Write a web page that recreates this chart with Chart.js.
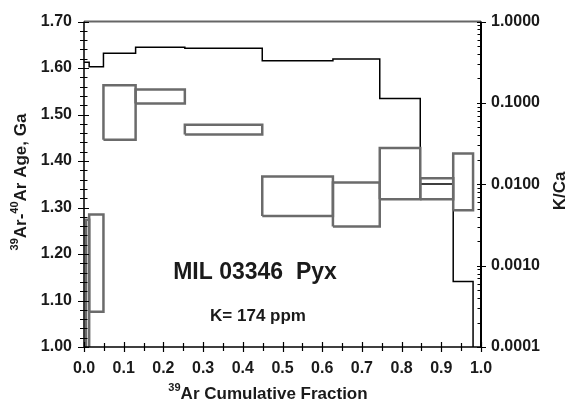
<!DOCTYPE html>
<html>
<head>
<meta charset="utf-8">
<script src="https://cdn.jsdelivr.net/npm/chart.js@4.4.1/dist/chart.umd.min.js"></script>
<style>
  html, body { margin: 0; padding: 0; background: #fff; }
  #wrap { width: 569px; height: 405px; position: relative; }
</style>
</head>
<body>
<div id="wrap"><canvas id="c"></canvas></div>
<script>
// Age spectrum steps (39Ar cumulative fraction) and age error boxes (Ga)
const stepStart = [0.005, 0.013, 0.049, 0.130, 0.254, 0.449, 0.627, 0.745, 0.847, 0.930];
const stepEnd   = [0.013, 0.049, 0.130, 0.254, 0.449, 0.627, 0.745, 0.847, 0.930, 0.980];
const ageHigh   = [1.274, 1.285, 1.563, 1.554, 1.478, 1.367, 1.354, 1.428, 1.363, 1.416];
const ageLow    = [0.950, 1.076, 1.446, 1.524, 1.457, 1.282, 1.259, 1.318, 1.318, 1.294];

// K/Ca step line (value holds from each x until the next one)
const kcaX     = [0, 0.013, 0.049, 0.130, 0.254, 0.449, 0.627, 0.745, 0.847, 0.930, 0.980, 1.0];
const kcaValue = [0.316, 0.279, 0.409, 0.484, 0.471, 0.330, 0.346, 0.1135, 0.0101, 0.00064, 0.00005, 0.00005];

// tick labels
const ageTicks = [1.0, 1.1, 1.2, 1.3, 1.4, 1.5, 1.6, 1.7];
const kcaTicks = [0.0001, 0.001, 0.01, 0.1, 1];

const FONT = "'Liberation Sans', Arial, sans-serif";
const boxColor = '#6b6b6b';

const datasets = [];
stepStart.forEach((x0, i) => {
  const x1 = stepEnd[i];
  datasets.push({
    type: 'line',
    yAxisID: 'yAge',
    data: [
      { x: x0, y: ageLow[i] }, { x: x0, y: ageHigh[i] },
      { x: x1, y: ageHigh[i] }, { x: x1, y: ageLow[i] },
      { x: x0, y: ageLow[i] }
    ],
    borderColor: boxColor,
    borderWidth: 2.5,
    pointRadius: 0,
    tension: 0,
    fill: false
  });
});
datasets.push({
  type: 'line',
  yAxisID: 'yK',
  data: kcaX.map((x, i) => ({ x: x, y: kcaValue[i] })),
  stepped: 'before',
  borderColor: '#000',
  borderWidth: 1.5,
  pointRadius: 0,
  fill: false
});

// draw text with superscript parts
function drawParts(ctx, parts, size, x, y) {
  const supSize = Math.round(size * 0.65);
  let w = 0;
  parts.forEach(p => {
    ctx.font = 'bold ' + (p.sup ? supSize : size) + 'px ' + FONT;
    p.w = ctx.measureText(p.t).width;
    w += p.w;
  });
  let cx = x - w / 2;
  ctx.textAlign = 'left';
  ctx.textBaseline = 'alphabetic';
  parts.forEach(p => {
    ctx.font = 'bold ' + (p.sup ? supSize : size) + 'px ' + FONT;
    ctx.fillText(p.t, cx, p.sup ? y - size * 0.45 : y);
    cx += p.w;
  });
}

const decor = {
  id: 'decor',
  afterDatasetsDraw(chart) {
    const { ctx, chartArea: a, scales } = chart;
    ctx.save();

    // frame
    ctx.strokeStyle = '#666';
    ctx.lineWidth = 2;
    ctx.beginPath();
    ctx.moveTo(a.left, a.top); ctx.lineTo(a.right, a.top);
    ctx.stroke();
    ctx.strokeStyle = '#000';
    ctx.lineWidth = 1.5;
    ctx.beginPath();
    ctx.moveTo(a.left, a.top); ctx.lineTo(a.left, a.bottom); ctx.lineTo(a.right, a.bottom);
    ctx.stroke();
    ctx.lineWidth = 2;
    ctx.beginPath();
    ctx.moveTo(a.right, a.top); ctx.lineTo(a.right, a.bottom);
    ctx.stroke();

    // left ticks
    ctx.lineWidth = 1.2;
    ctx.beginPath();
    for (let i = 0; i <= 35; i++) {
      const v = 1 + i * 0.02;
      const y = Math.round(scales.yAge.getPixelForValue(v)) + 0.5;
      const major = i % 5 === 0;
      ctx.moveTo(a.left - (major ? 6 : 4), y);
      ctx.lineTo(a.left + (major ? 5 : 3.5), y);
    }
    // bottom ticks
    for (let i = 0; i <= 20; i++) {
      const x = Math.round(scales.x.getPixelForValue(i * 0.05)) + 0.5;
      const major = i % 2 === 0;
      ctx.moveTo(x, a.bottom - (major ? 5 : 4));
      ctx.lineTo(x, a.bottom + (major ? 5 : 4));
    }
    // right log ticks
    for (let d = -4; d <= 0; d++) {
      const y = Math.round(scales.yK.getPixelForValue(Math.pow(10, d))) + 0.5;
      ctx.moveTo(a.right - 4, y);
      ctx.lineTo(a.right + 5, y);
      if (d < 0) {
        for (let m = 2; m <= 9; m++) {
          const ym = Math.round(scales.yK.getPixelForValue(m * Math.pow(10, d))) + 0.5;
          ctx.moveTo(a.right - 3.5, ym);
          ctx.lineTo(a.right, ym);
        }
      }
    }
    ctx.stroke();

    // annotations
    ctx.fillStyle = '#1a1a1a';
    ctx.textAlign = 'center';
    ctx.textBaseline = 'alphabetic';
    ctx.font = 'bold 23px ' + FONT;
    ctx.fillText('MIL 03346  Pyx', 255, 279);
    ctx.font = 'bold 17px ' + FONT;
    ctx.fillText('K= 174 ppm', 258, 321);

    // x title
    drawParts(ctx, [{ t: '39', sup: true }, { t: 'Ar Cumulative Fraction' }], 17, 268, 399);

    // left title
    ctx.save();
    ctx.translate(26, 182);
    ctx.rotate(-Math.PI / 2);
    drawParts(ctx, [{ t: '39', sup: true }, { t: 'Ar-' }, { t: '40', sup: true }, { t: 'Ar Age, Ga' }], 17, 0, 0);
    ctx.restore();

    // right title
    ctx.save();
    ctx.translate(565, 191);
    ctx.rotate(-Math.PI / 2);
    drawParts(ctx, [{ t: 'K/Ca' }], 17, 0, 0);
    ctx.restore();

    ctx.restore();
  }
};

const tickFont = { family: FONT, size: 16, weight: 'bold' };

new Chart(document.getElementById('c'), {
  data: { datasets: datasets },
  options: {
    responsive: true,
    maintainAspectRatio: false,
    animation: false,
    layout: { padding: { top: 17, left: 0, right: 0, bottom: 0 } },
    plugins: { legend: { display: false }, tooltip: { enabled: false } },
    scales: {
      x: {
        type: 'linear', position: 'bottom', min: 0, max: 1,
        grid: { display: false, drawTicks: false },
        border: { display: false },
        ticks: { stepSize: 0.1, padding: 12, color: '#1a1a1a', font: tickFont, maxRotation: 0,
                 callback: v => v.toFixed(1) },
        afterFit(s) { s.height = 58; }
      },
      yAge: {
        type: 'linear', position: 'left', min: 1, max: 1.7,
        grid: { display: false, drawTicks: false },
        border: { display: false },
        afterBuildTicks(s) { s.ticks = ageTicks.map(v => ({ value: v })); },
        ticks: { padding: 12, color: '#1a1a1a', font: tickFont, callback: v => v.toFixed(2) },
        afterFit(s) { s.width = 84; }
      },
      yK: {
        type: 'logarithmic', position: 'right', min: 0.0001, max: 1,
        grid: { display: false, drawTicks: false },
        border: { display: false },
        afterBuildTicks(s) { s.ticks = kcaTicks.map(v => ({ value: v, major: true })); },
        ticks: { padding: 10, color: '#1a1a1a', font: tickFont, callback: v => Number(v).toFixed(4) },
        afterFit(s) { s.width = 88; }
      }
    }
  },
  plugins: [decor]
});
</script>
</body>
</html>
